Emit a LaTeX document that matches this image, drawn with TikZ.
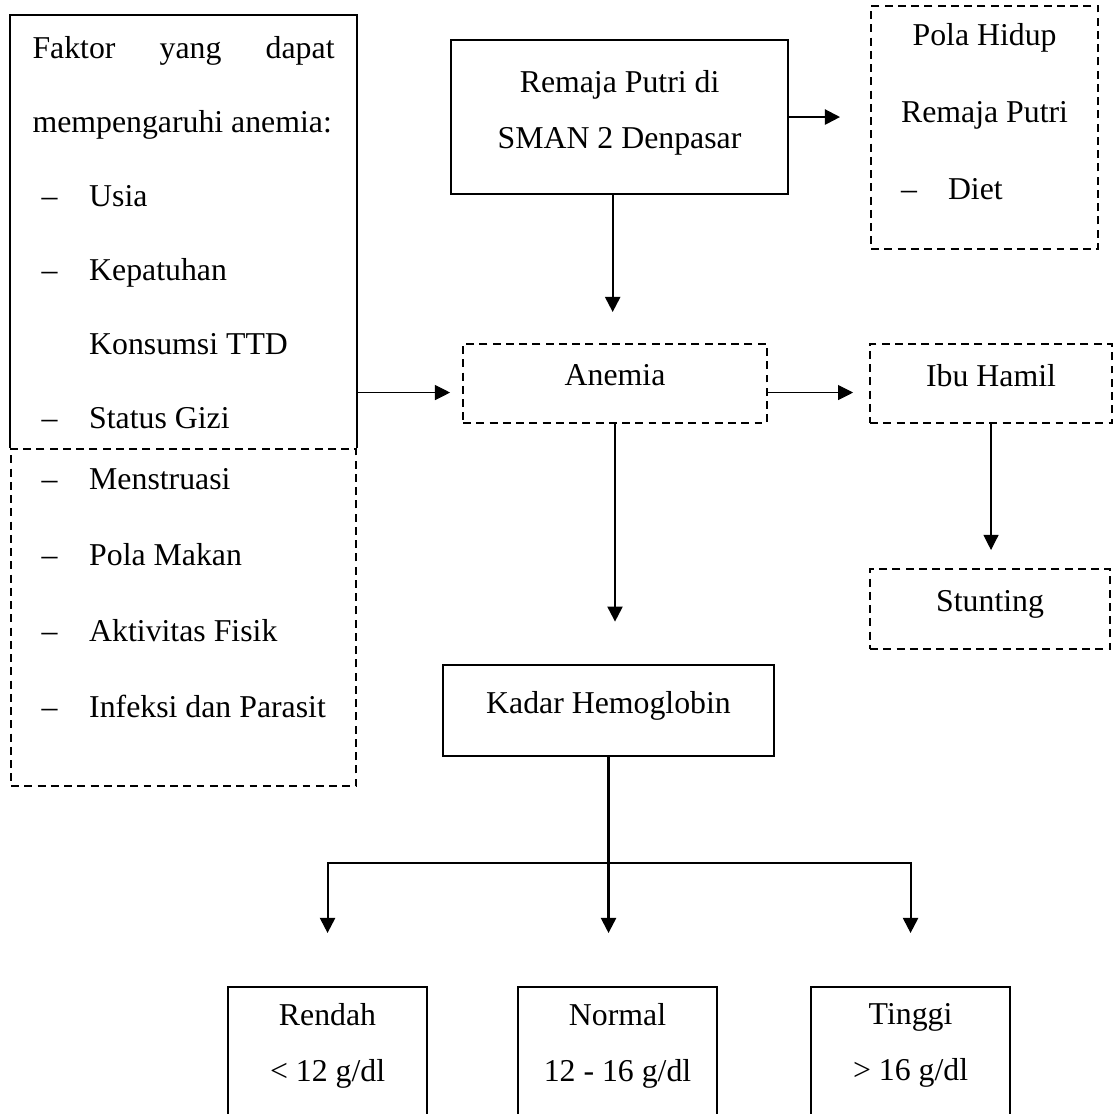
\documentclass[tikz,border=0pt]{standalone}
\usepackage{fontspec}
\setmainfont{Liberation Serif}
\usetikzlibrary{positioning}
\usetikzlibrary{calc}
\usetikzlibrary{arrows.meta}

\setlength{\parindent}{0pt}
\newcommand{\fitem}[1]{\hspace*{3.4pt}--\hspace{12pt}#1}

\begin{document}
\begin{tikzpicture}[
    x=0.3774pt, y=-0.3774pt,
    box/.style={draw, thick, anchor=north west, inner sep=0pt},
    dashbox/.style={box, dash pattern=on 3pt off 2pt},
    arr/.style={thick, -{Triangle[length=5.7pt, width=5.7pt]}},
    thinarr/.style={thin, -{Triangle[length=5.7pt, width=5.7pt]}},
    every label/.style={inner sep=0pt, align=center, font=\fontsize{12}{21}\selectfont},
    ]
    \useasboundingbox (0,0) rectangle (1114,1114);
    \clip (0,0) rectangle (1114,1114);

    % faktor anemia
    \node[dashbox, minimum width=130.2pt, minimum height=127.2pt,
        label={[below=7.7pt, text width=114pt, align=flush left, font=\fontsize{12}{28.6}\selectfont]north:\fitem{Menstruasi}\\\fitem{Pola Makan}\\\fitem{Aktivitas Fisik}\\\fitem{Infeksi dan Parasit}}] (others) at (10,448) {};
    \node[box, draw=none, minimum width=130.2pt, minimum height=163.4pt,
        label={[below=7.7pt, text width=114pt, align=flush left, font=\fontsize{12}{28}\selectfont]north:Faktor\hfill yang\hfill dapat\\mempengaruhi anemia:\\\fitem{Usia}\\\fitem{Kepatuhan}\\\hspace*{21.4pt}Konsumsi TTD\\\fitem{Status Gizi}}] (faktor) at (10,15) {};
    \draw[thick] (others.north west) |- (faktor.north) -| (others.north east);

    \node[box, minimum width=127.2pt, minimum height=58.1pt,
        label={[below=11.8pt]north:Remaja Putri di\\SMAN 2 Denpasar}] (remaja) at (450,39) {};
    \node[dashbox, minimum width=85.7pt, minimum height=91.7pt,
        label={[below=6.9pt, font=\fontsize{12}{29}\selectfont]north:Pola Hidup\\Remaja Putri\\{\makebox[63pt][l]{--\hspace{11.7pt}Diet}}}] (pola) at (870,5) {};
    \node[dashbox, minimum width=114.7pt, minimum height=29.8pt,
        label={[below=8pt]north:Anemia}] (anemia) at (462,343) {};
    \node[dashbox, minimum width=91.3pt, minimum height=29.8pt,
        label={[below=7.7pt]north:Ibu Hamil}] (ibu) at (869,343) {};
    \node[dashbox, minimum width=90.6pt, minimum height=30.2pt,
        label={[below=8.4pt]north:Stunting}] (stunting) at (869,568) {};
    \node[box, minimum width=124.9pt, minimum height=34.3pt,
        label={[below=10.3pt]north:Kadar Hemoglobin}] (kadar) at (442,664) {};

    % kadar hb
    \node[box, minimum width=75.1pt, minimum height=55pt,
        label={[below=6.5pt]north:Rendah\\< 12 g/dl}] (rendah) at (227,986) {};
    \node[box, minimum width=75.1pt, minimum height=55pt,
        label={[below=6.5pt]north:Normal\\12 - 16 g/dl}] (normal) at (517,986) {};
    \node[box, minimum width=75.1pt, minimum height=55pt,
        label={[below=6.5pt]north:Tinggi\\> 16 g/dl}] (tinggi) at (810,986) {};

    \coordinate (inrow) at ([yshift=-3.4pt]anemia.west);
    \coordinate (outrow) at ([yshift=-3.4pt]anemia.east);
    \coordinate (down) at ([xshift=-2.6pt]remaja.south);
    \coordinate (split) at ($(kadar.south)+(0,106)$);

    \draw[arr, shorten >=11.3pt] (remaja.east) -- (remaja.east -| pola.west);
    \draw[arr, shorten >=11.7pt] (down) -- (down |- anemia.north);
    \draw[thinarr, shorten >=4.5pt] (inrow -| faktor.east) -- (inrow);
    \draw[thinarr, shorten >=6pt] (outrow) -- (outrow -| ibu.west);
    \draw[thinarr, shorten >=6.8pt] (ibu.south) -- (ibu.south |- stunting.north);
    \draw[arr, shorten >=16pt] (anemia.south) -- (anemia.south |- kadar.north);

    \draw[thick] (kadar.south) -- (split);
    \draw[arr, shorten >=20pt] (split) -| (rendah.north);
    \draw[arr, shorten >=20pt] (split) -- (split |- normal.north);
    \draw[arr, shorten >=20pt] (split) -| (tinggi.north);
\end{tikzpicture}
\end{document}
